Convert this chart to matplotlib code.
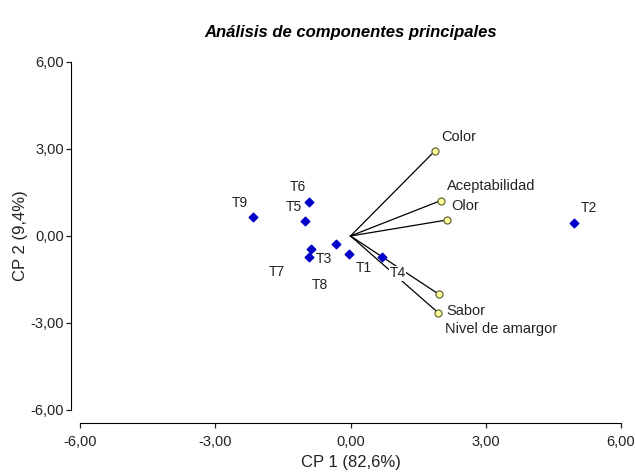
import matplotlib.pyplot as plt

plt.rcParams['font.family'] = ['Liberation Sans', 'DejaVu Sans']

# observations (treatments)
trat = ['T1', 'T2', 'T3', 'T4', 'T5', 'T6', 'T7', 'T8', 'T9']
cp1 = [-0.04, 4.96, -0.32, 0.70, -1.00, -0.91, -0.87, -0.93, -2.16]
cp2 = [-0.61, 0.45, -0.28, -0.73, 0.52, 1.17, -0.45, -0.72, 0.66]

# variables (loadings)
var = ['Color', 'Aceptabilidad', 'Olor', 'Sabor', 'Nivel de amargor']
var_x = [1.87, 2.00, 2.13, 1.96, 1.94]
var_y = [2.93, 1.22, 0.55, -2.01, -2.64]

# label offsets in pixels (layout only)
trat_off = {'T1': (15, -14), 'T2': (15, 15), 'T3': (-12, -15), 'T4': (15.5, -16),
            'T5': (-11.5, 14), 'T6': (-11.5, 15), 'T7': (-34, -23), 'T8': (11, -28),
            'T9': (-13, 14)}
var_off = {'Color': (6, 14), 'Aceptabilidad': (6, 14.5), 'Olor': (5, 14),
           'Sabor': (7, -17), 'Nivel de amargor': (7, -16)}

fig = plt.figure(figsize=(6.35, 4.73), dpi=100)
ax = fig.add_axes([0.1260, 0.1332, 0.8520, 0.7358])

for vx, vy in zip(var_x, var_y):
    ax.plot([0, vx], [0, vy], color='black', lw=0.9, zorder=1)
ax.scatter(var_x, var_y, marker='o', s=26, facecolor='#ffff99',
           edgecolor='#555533', linewidths=0.8, zorder=3)
ax.scatter(cp1, cp2, marker='D', s=19, color='#0000c8', zorder=3)

px = 0.72  # points per pixel at 100 dpi
for name, x, y in zip(trat, cp1, cp2):
    dx, dy = trat_off[name]
    ax.annotate(name, (x, y), xytext=(dx * px, dy * px), textcoords='offset points',
                ha='center', va='center', fontsize=10, color='#222222',
                bbox=dict(facecolor='white', edgecolor='none', pad=0.3), zorder=4)
for name, x, y in zip(var, var_x, var_y):
    dx, dy = var_off[name]
    ax.annotate(name, (x, y), xytext=(dx * px, dy * px), textcoords='offset points',
                ha='left', va='center', fontsize=10.5, color='#222222', zorder=4)

ax.set_xlim(-6, 6)
ax.set_ylim(-6, 6)
ticks = [-6, -3, 0, 3, 6]
ax.set_xticks(ticks)
ax.set_yticks(ticks)
ax.set_xticklabels([f'{t:.2f}'.replace('.', ',') for t in ticks])
ax.set_yticklabels([f'{t:.2f}'.replace('.', ',') for t in ticks])
ax.tick_params(labelsize=10.5, length=3.6, width=0.9, colors='#222222', pad=1.5)
ax.tick_params(axis='x', pad=5)

for s in ['top', 'right']:
    ax.spines[s].set_visible(False)
ax.spines['left'].set_position(('outward', 6.5))
ax.spines['bottom'].set_position(('outward', 9.4))

ax.set_xlabel('CP 1 (82,6%)', fontsize=12, color='#222222', labelpad=4)
ax.set_ylabel('CP 2 (9,4%)', fontsize=12, color='#222222', labelpad=2)
ax.set_title('Análisis de componentes principales', fontsize=12,
             fontweight='bold', style='italic', pad=18)

fig.savefig('out.png', dpi=100)
